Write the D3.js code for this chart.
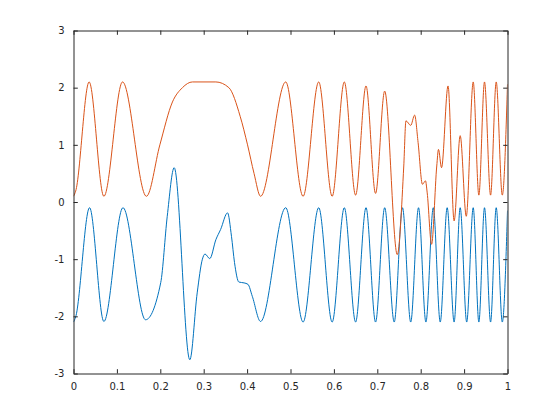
<!DOCTYPE html>
<html>
<head>
<meta charset="utf-8">
<script src="https://cdn.jsdelivr.net/npm/d3@7"></script>
<style>
  html, body { margin: 0; padding: 0; background: #ffffff; }
  svg { display: block; }
</style>
</head>
<body>
<svg id="chart" width="560" height="420"></svg>
<script>
// ---- data ----
const xTicks = [0, 0.1, 0.2, 0.3, 0.4, 0.5, 0.6, 0.7, 0.8, 0.9, 1];
const yTicks = [-3, -2, -1, 0, 1, 2, 3];
const xTickLabels = ["0", "0.1", "0.2", "0.3", "0.4", "0.5", "0.6", "0.7", "0.8", "0.9", "1"];
const yTickLabels = ["-3", "-2", "-1", "0", "1", "2", "3"];

const orangeX = [0, 0.005, 0.036, 0.070, 0.113, 0.168, 0.199, 0.228, 0.251, 0.274, 0.328, 0.358, 0.384, 0.401, 0.416, 0.431,
  0.489, 0.529, 0.565, 0.596, 0.624, 0.650, 0.674, 0.696, 0.717, 0.746, 0.761, 0.766, 0.777, 0.786, 0.794, 0.804,
  0.811, 0.815, 0.825, 0.837, 0.841, 0.848, 0.863, 0.877, 0.891, 0.905, 0.921, 0.934, 0.947, 0.961, 0.974, 0.988, 1.0];
const orangeY = [0.1, 0.19, 2.1, 0.1, 2.1, 0.1, 1.0, 1.75, 2.0, 2.1, 2.1, 2.0, 1.5, 1.0, 0.5, 0.1,
  2.1, 0.1, 2.1, 0.1, 2.1, 0.12, 2.03, 0.15, 1.94, -0.92, 0.63, 1.42, 1.34, 1.52, 1.04, 0.31,
  0.37, 0.16, -0.74, 0.63, 0.92, 0.60, 2.03, -0.33, 1.16, -0.25, 2.1, 0.12, 2.1, 0.12, 2.1, 0.12, 2.06];

const blueX = [0, 0.005, 0.037, 0.070, 0.114, 0.166, 0.201, 0.216, 0.232, 0.268, 0.285, 0.297, 0.303, 0.314, 0.328, 0.339,
  0.355, 0.364, 0.371, 0.381, 0.393, 0.402, 0.412, 0.431, 0.489, 0.529, 0.565, 0.596, 0.624, 0.650, 0.674, 0.696,
  0.717, 0.739, 0.758, 0.777, 0.795, 0.812, 0.829, 0.845, 0.861, 0.877, 0.891, 0.906, 0.921, 0.934, 0.947, 0.961,
  0.974, 0.988, 1.0];
const blueY = [-2.1, -2.01, -0.1, -2.09, -0.1, -2.06, -1.41, -0.25, 0.6, -2.76, -1.59, -1.0, -0.91, -0.99, -0.66, -0.48,
  -0.19, -0.6, -1.06, -1.40, -1.415, -1.44, -1.65, -2.09, -0.1, -2.1, -0.1, -2.1, -0.1, -2.1, -0.1, -2.1,
  -0.1, -2.1, -0.1, -2.1, -0.1, -2.1, -0.1, -2.1, -0.1, -2.1, -0.1, -2.1, -0.1, -2.1, -0.1, -2.1,
  -0.1, -2.1, -0.15];

// ---- layout ----
const padL = 73.5, padR = 507.5, padT = 30.5, padB = 373.5;
const axisColor = "#262626";

const svg = d3.select("#chart");
svg.append("rect").attr("width", 560).attr("height", 420).attr("fill", "#ffffff");

const x = d3.scaleLinear().domain([0, 1]).range([padL, padR]);
const y = d3.scaleLinear().domain([-3, 3]).range([padB, padT]);

const line = d3.line()
  .x(d => x(d[0]))
  .y(d => y(d[1]))
  .curve(d3.curveMonotoneX);

svg.append("clipPath").attr("id", "plotclip")
  .append("rect").attr("x", padL).attr("y", padT).attr("width", padR - padL).attr("height", padB - padT);

const plot = svg.append("g").attr("clip-path", "url(#plotclip)");

plot.append("path")
  .datum(blueX.map((v, i) => [v, blueY[i]]))
  .attr("fill", "none")
  .attr("stroke", "#0072BD")
  .attr("stroke-width", 1)
  .attr("d", line);

plot.append("path")
  .datum(orangeX.map((v, i) => [v, orangeY[i]]))
  .attr("fill", "none")
  .attr("stroke", "#D95319")
  .attr("stroke-width", 1)
  .attr("d", line);

// ---- axes (MATLAB style: box, inward ticks on all sides) ----
const tickLen = 4.3;
const fmtX = (d, i) => xTickLabels[i];
const fmtY = (d, i) => yTickLabels[i];

const axB = d3.axisBottom(x).tickValues(xTicks).tickFormat(fmtX).tickSizeInner(-tickLen).tickSizeOuter(0).tickPadding(9);
const axT = d3.axisTop(x).tickValues(xTicks).tickFormat("").tickSizeInner(-tickLen).tickSizeOuter(0);
const axL = d3.axisLeft(y).tickValues(yTicks).tickFormat(fmtY).tickSizeInner(-tickLen).tickSizeOuter(0).tickPadding(9);
const axR = d3.axisRight(y).tickValues(yTicks).tickFormat("").tickSizeInner(-tickLen).tickSizeOuter(0);

function style(g) {
  g.selectAll(".domain").attr("stroke", axisColor).attr("stroke-width", 1);
  g.selectAll(".tick line").attr("stroke", axisColor).attr("stroke-width", 1);
  g.selectAll(".tick text").attr("fill", axisColor)
    .style("font-family", "'DejaVu Sans', sans-serif").style("font-size", "10px");
}

svg.append("g").attr("transform", `translate(0,${padB})`).call(axB).call(style);
svg.append("g").attr("transform", `translate(0,${padT})`).call(axT).call(style);
svg.append("g").attr("transform", `translate(${padL},0)`).call(axL).call(style);
svg.append("g").attr("transform", `translate(${padR},0)`).call(axR).call(style);
</script>
</body>
</html>
